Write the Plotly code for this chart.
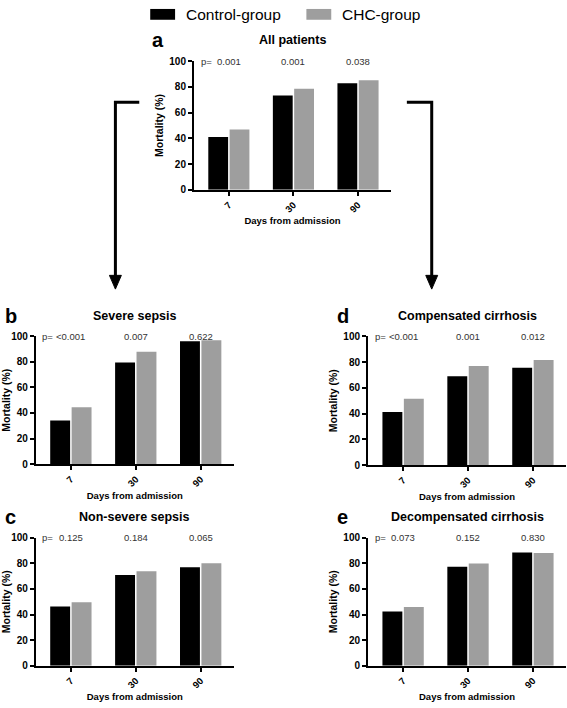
import plotly.graph_objects as go

# ---------------- data ----------------
days = ["7", "30", "90"]

panel_letters = ["a", "b", "c", "d", "e"]
panel_titles = ["All patients", "Severe sepsis", "Non-severe sepsis",
                "Compensated cirrhosis", "Decompensated cirrhosis"]

control_all = [41.0, 73.3, 82.7]
chc_all = [46.8, 78.4, 85.0]

control_severe = [34.1, 79.5, 96.2]
chc_severe = [44.4, 87.9, 96.9]

control_nonsevere = [46.2, 71.0, 76.9]
chc_nonsevere = [49.5, 73.8, 80.2]

control_comp = [41.3, 68.9, 75.5]
chc_comp = [51.6, 77.0, 81.6]

control_decomp = [42.3, 77.4, 88.5]
chc_decomp = [45.9, 80.0, 88.2]

p_all = ["0.001", "0.001", "0.038"]
p_severe = ["<0.001", "0.007", "0.622"]
p_nonsevere = ["0.125", "0.184", "0.065"]
p_comp = ["<0.001", "0.001", "0.012"]
p_decomp = ["0.073", "0.152", "0.830"]

series_names = ["Control-group", "CHC-group"]
yticks = [0, 20, 40, 60, 80, 100]

# ---------------- styling ----------------
W, H = 567, 708
FONT = "Liberation Sans, Arial, sans-serif"
BLACK = "#000000"
GRAY = "#9e9e9e"


def fx(px):
    return px / W


def fy(py):
    return 1 - py / H


# pixel boxes (x0, x1, ytop, ybottom) for each panel
boxes = [
    (192, 390, 56, 187),
    (33, 232, 336, 466),
    (33, 232, 541, 671),
    (367, 566, 336, 467),
    (367, 566, 541, 671),
]

controls = [control_all, control_severe, control_nonsevere, control_comp, control_decomp]
chcs = [chc_all, chc_severe, chc_nonsevere, chc_comp, chc_decomp]
pvals = [p_all, p_severe, p_nonsevere, p_comp, p_decomp]

fig = go.Figure()
layout = dict(
    width=W, height=H,
    margin=dict(l=0, r=0, t=0, b=0),
    paper_bgcolor="white", plot_bgcolor="white",
    font=dict(family=FONT, color="#000"),
    barmode="group", bargap=0.34, bargroupgap=0.07,
    showlegend=False,
)
annotations = []
shapes = []

for i, (box, ctrl, chc, pv, title, letter) in enumerate(
        zip(boxes, controls, chcs, pvals, panel_titles, panel_letters)):
    n = "" if i == 0 else str(i + 1)
    xa, ya = "x" + n, "y" + n
    x0, x1, yt, yb = box
    fig.add_trace(go.Bar(x=days, y=ctrl, name=series_names[0], marker_color=BLACK,
                         marker_line_width=0, xaxis=xa, yaxis=ya, offsetgroup="ctrl"))
    fig.add_trace(go.Bar(x=days, y=chc, name=series_names[1], marker_color=GRAY,
                         marker_line_width=0, xaxis=xa, yaxis=ya, offsetgroup="chc"))
    layout["xaxis" + n] = dict(
        domain=[fx(x0), fx(x1)], anchor=ya, type="category",
        range=[-0.54, 2.51], showline=True, linecolor="#000", linewidth=2,
        ticks="outside", ticklen=4, tickwidth=2, tickcolor="#000",
        tickangle=-45, tickfont=dict(size=9.5, family=FONT, weight="bold"),
        showgrid=False, zeroline=False,
        title=dict(text="<b>Days from admission</b>", font=dict(size=9.5), standoff=4),
    )
    layout["yaxis" + n] = dict(
        domain=[fy(yb), fy(yt)], anchor=xa, range=[0, 100],
        tickvals=yticks, showline=True, linecolor="#000", linewidth=2,
        ticks="outside", ticklen=4, tickwidth=2, tickcolor="#000",
        tickfont=dict(size=10, family=FONT, weight="bold"),
        showgrid=False, zeroline=False,
        title=dict(text="<b>Mortality (%)</b>", font=dict(size=10.5), standoff=4),
    )
    # p-values (category index positions)
    for j, p in enumerate(pv):
        annotations.append(dict(x=j, y=100, xref=xa, yref=ya, text=p, showarrow=False,
                                xanchor="center", yanchor="middle",
                                font=dict(size=9.5, color="#333")))
    annotations.append(dict(x=-0.47, y=100, xref=xa, yref=ya, text="p=", showarrow=False,
                            xanchor="left", yanchor="middle",
                            font=dict(size=9.5, color="#333")))
    # panel title and letter
    cx = (x0 + x1) / 2
    ty = yt - 21
    annotations.append(dict(x=fx(cx), y=fy(ty), xref="paper", yref="paper",
                            text="<b>%s</b>" % title, showarrow=False,
                            xanchor="center", yanchor="middle", font=dict(size=12.5)))
    lx = x0 - 44 if i == 0 else x0 - 33
    annotations.append(dict(x=fx(lx), y=fy(ty), xref="paper", yref="paper",
                            text="<b>%s</b>" % letter, showarrow=False,
                            xanchor="left", yanchor="middle", font=dict(size=20)))

# legend drawn at top
leg = [(148, 173, BLACK, 182, series_names[0]), (305, 330, GRAY, 339, series_names[1])]
for sx0, sx1, col, tx, name in leg:
    shapes.append(dict(type="rect", xref="paper", yref="paper",
                       x0=fx(sx0), x1=fx(sx1), y0=fy(14), y1=fy(3),
                       fillcolor=col, line=dict(width=0)))
    annotations.append(dict(x=fx(tx), y=fy(8.5), xref="paper", yref="paper", text=name,
                            showarrow=False, xanchor="left", yanchor="middle",
                            font=dict(size=15.5, color="#000")))

# connector arrows from panel a
for hx0, vx in [(137, 113), (406, 431)]:
    shapes.append(dict(type="path", xref="paper", yref="paper",
                       path="M %f %f L %f %f L %f %f" % (fx(hx0), fy(98), fx(vx), fy(98), fx(vx), fy(278)),
                       line=dict(color="#000", width=3)))
    shapes.append(dict(type="path", xref="paper", yref="paper",
                       path="M %f %f L %f %f L %f %f Z" % (fx(vx - 6), fy(274), fx(vx + 6), fy(274), fx(vx), fy(288)),
                       fillcolor="#000", line=dict(color="#000", width=1)))

layout["annotations"] = annotations
layout["shapes"] = shapes
fig.update_layout(**layout)
fig.write_html("out.html", config={"displayModeBar": False},
               post_script="document.body.style.margin='0px';document.body.style.overflow='hidden';")
